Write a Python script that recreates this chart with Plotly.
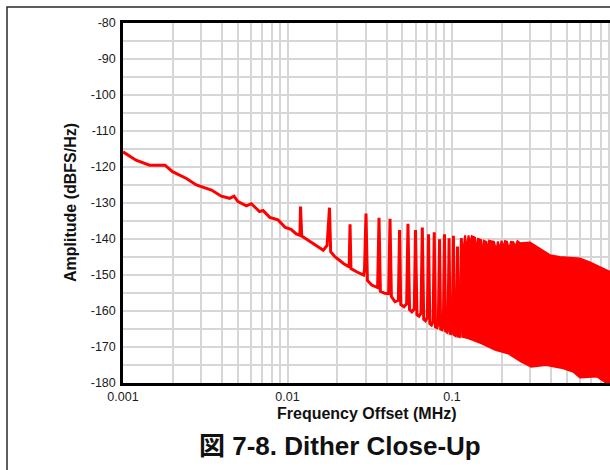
import plotly.graph_objects as go

# ---------------- data ----------------
# Noise floor of the trace (incl. the base points right beside each spur)
floor_freq_mhz = [0.001, 0.0012, 0.00145, 0.0018, 0.002, 0.00243, 0.00279, 0.00345,
                  0.00396, 0.00445, 0.00473, 0.005, 0.00563, 0.00603, 0.00676, 0.0071,
                  0.0078, 0.00875, 0.0097, 0.0105, 0.0113, 0.0119, 0.0122, 0.0128,
                  0.0147, 0.0165, 0.0174, 0.0183, 0.0194, 0.0219, 0.0237, 0.0243,
                  0.0263, 0.029, 0.0294, 0.0306, 0.0325, 0.0353, 0.0367, 0.039,
                  0.0412, 0.0428, 0.045, 0.0472, 0.0488, 0.051, 0.053, 0.0552,
                  0.057, 0.059, 0.0612, 0.063, 0.0648, 0.0673, 0.069, 0.0708,
                  0.0733, 0.075, 0.0768, 0.0793, 0.081, 0.0826, 0.0853, 0.087,
                  0.0886, 0.0913, 0.093, 0.0946, 0.0973, 0.099, 0.1005, 0.1035,
                  0.105, 0.1065, 0.1095, 0.111, 0.1125]
floor_db = [-115.8, -118.1, -119.5, -119.5, -121.3, -123.2, -125.0, -126.4,
            -128.1, -128.7, -128.1, -129.6, -130.8, -130.2, -132.4, -132.1,
            -134.0, -134.7, -136.8, -137.3, -138.6, -139.0, -139.2, -139.8,
            -141.7, -143.1, -141.8, -143.5, -144.9, -146.8, -147.8, -148.2,
            -149.1, -150.0, -148.5, -151.5, -152.8, -153.5, -154.5, -155.1,
            -155.2, -156.0, -157.4, -157.0, -158.2, -158.8, -158.0, -159.6,
            -160.2, -159.4, -161.0, -161.4, -160.6, -162.3, -162.7, -161.8,
            -163.5, -163.9, -162.8, -164.4, -164.6, -163.4, -165.0, -165.2,
            -164.0, -165.5, -165.8, -164.6, -166.2, -166.3, -165.0, -166.6,
            -166.8, -165.6, -167.0, -167.1, -166.0]

# Dither spurs (peak levels)
spur_freq_mhz = [0.012, 0.018, 0.024, 0.030, 0.036, 0.042, 0.048, 0.054, 0.060,
                 0.066, 0.072, 0.078, 0.084, 0.090, 0.096, 0.102, 0.108, 0.114]
spur_db = [-131.0, -131.3, -135.9, -132.9, -134.1, -134.4, -137.5, -135.8, -137.5,
           -136.8, -138.7, -138.1, -140.1, -138.7, -139.8, -139.1, -142.1, -139.8]

# Dense spur region: upper and lower envelopes
band_upper_freq_mhz = [0.114, 0.117, 0.120, 0.123, 0.126, 0.129, 0.132, 0.138, 0.141,
                       0.144, 0.150, 0.153, 0.156, 0.162, 0.165, 0.168, 0.180, 0.186,
                       0.190, 0.195, 0.200, 0.205, 0.210, 0.216, 0.222, 0.228, 0.236,
                       0.242, 0.250, 0.26, 0.298, 0.357, 0.394, 0.453, 0.52,
                       0.60, 0.69, 0.79, 0.91, 1.0]
band_upper_db = [-139.8, -144.0, -139.0, -143.0, -139.0, -141.5, -139.2, -139.6, -143.5,
                 -140.0, -140.3, -145.0, -140.5, -140.8, -144.5, -140.5, -140.8, -143.5,
                 -140.7, -143.0, -140.5, -142.5, -140.6, -140.8, -143.0, -140.8, -140.9,
                 -142.2, -140.6, -141.2, -141.0, -143.2, -144.5, -145.0, -145.2,
                 -145.4, -146.5, -147.8, -149.1, -150.0]
band_lower_freq_mhz = [0.114, 0.126, 0.151, 0.183, 0.22, 0.265, 0.303, 0.373, 0.475,
                       0.546, 0.60, 0.76, 0.87, 1.0]
band_lower_db = [-167.1, -167.6, -169.0, -170.8, -171.8, -174.1, -175.5, -175.0, -175.9,
                 -176.9, -178.5, -178.2, -180.0, -181.0]

x_tick_vals = [0.001, 0.01, 0.1, 1]
x_tick_text = ["0.001", "0.01", "0.1", "1"]
y_tick_vals = [-80, -90, -100, -110, -120, -130, -140, -150, -160, -170, -180]
y_tick_text = ["-80", "-90", "-100", "-110", "-120", "-130", "-140", "-150",
               "-160", "-170", "-180"]

title_text = "図 7-8. Dither Close-Up"
x_title = "Frequency Offset (MHz)"
y_title = "Amplitude (dBFS/Hz)"

# ---------------- figure ----------------
RED = "#ff0000"
FONT = "Liberation Sans, Arial, Noto Sans CJK JP, sans-serif"

pts = sorted(list(zip(floor_freq_mhz, floor_db)) + list(zip(spur_freq_mhz, spur_db)))
line_x = [p[0] for p in pts]
line_y = [p[1] for p in pts]

band_x = band_upper_freq_mhz + band_lower_freq_mhz[::-1]
band_y = band_upper_db + band_lower_db[::-1]

fig = go.Figure()
fig.add_trace(go.Scatter(x=band_x, y=band_y, mode="lines", fill="toself",
                         fillcolor=RED, line=dict(color=RED, width=2),
                         hoverinfo="skip", showlegend=False))
fig.add_trace(go.Scatter(x=line_x, y=line_y, mode="lines",
                         line=dict(color=RED, width=3), showlegend=False))

minor_x = [k * 10.0 ** e for e in (-3, -2, -1) for k in range(2, 10)]

GRID = "#d6d6d6"
fig.update_xaxes(type="log", range=[-3, -0.0395], tickmode="array",
                 tickvals=x_tick_vals, ticktext=x_tick_text,
                 showgrid=True, gridcolor=GRID, gridwidth=2,
                 minor=dict(tickmode="array", tickvals=minor_x, showgrid=True,
                            gridcolor=GRID, gridwidth=2, ticks=""),
                 showline=True, linecolor="black", linewidth=2.5, mirror=True,
                 ticks="", ticklabelstandoff=0,
                 tickfont=dict(family=FONT, size=12.5, color="#1a1a1a"),
                 zeroline=False)
fig.update_yaxes(range=[-180, -80], tickmode="array",
                 tickvals=y_tick_vals, ticktext=y_tick_text,
                 showgrid=True, gridcolor=GRID, gridwidth=2,
                 minor=dict(dtick=5, tick0=-180, showgrid=True, gridcolor=GRID,
                            gridwidth=2, ticks=""),
                 showline=True, linecolor="black", linewidth=2.5, mirror=False,
                 ticks="", ticklabelstandoff=2,
                 tickfont=dict(family=FONT, size=12.5, color="#1a1a1a"),
                 zeroline=False)

L, T, B = 123, 23, 87
W, H = 610, 470
pw, ph = W - L, H - T - B

def px(x):
    return (x - L) / pw

def py(y):
    return (H - B - y) / ph

fig.update_layout(
    width=W, height=H,
    margin=dict(l=L, r=0, t=T, b=B),
    paper_bgcolor="white", plot_bgcolor="white",
    showlegend=False,
    shapes=[dict(type="rect", xref="paper", yref="paper",
                 x0=px(7), x1=px(760), y0=py(520), y1=py(7),
                 line=dict(color="#2a2a2a", width=1.5), layer="below")],
    annotations=[
        dict(text=f"<b>{y_title}</b>", xref="paper", yref="paper",
             x=px(70), y=py(203), textangle=-90, showarrow=False,
             xanchor="center", yanchor="middle",
             font=dict(family=FONT, size=16, color="#111")),
        dict(text=f"<b>{x_title}</b>", xref="paper", yref="paper",
             x=px(366.5), y=py(414), showarrow=False,
             xanchor="center", yanchor="middle",
             font=dict(family=FONT, size=16, color="#111")),
        dict(text=f"<b>{title_text}</b>", xref="paper", yref="paper",
             x=px(340), y=py(446), showarrow=False,
             xanchor="center", yanchor="middle",
             font=dict(family=FONT, size=26, color="#111")),
    ],
)

fig.write_html("out.html", config={"displayModeBar": False},
               post_script="document.body.style.margin='0';document.body.style.overflow='hidden';")
